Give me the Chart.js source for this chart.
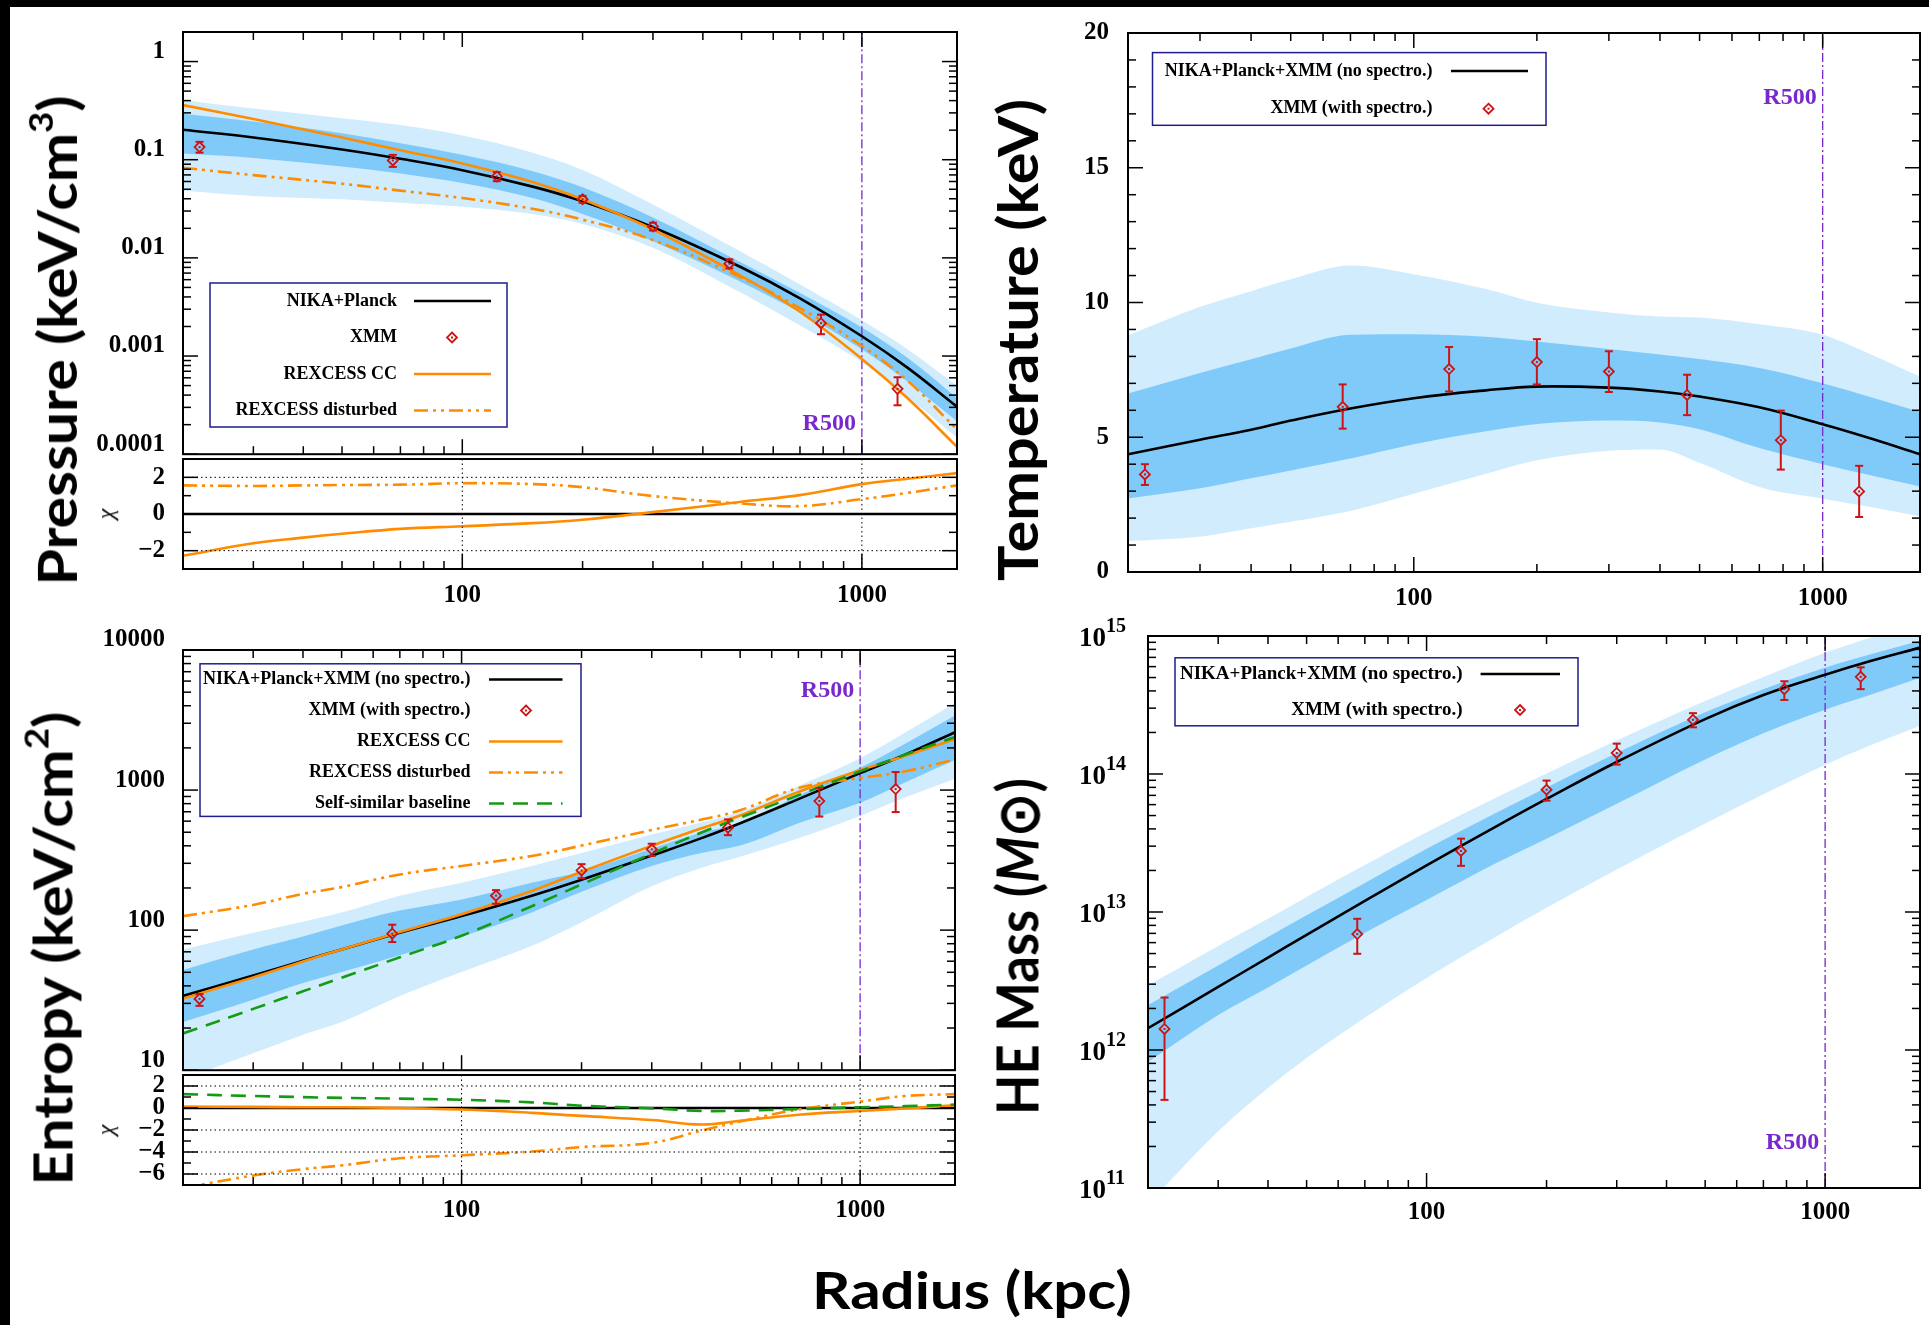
<!DOCTYPE html>
<html>
<head>
<meta charset="utf-8">
<title>Cluster profiles</title>
<script src="https://cdn.jsdelivr.net/npm/chart.js@4.4.1/dist/chart.umd.min.js"></script>
<style>
  body { margin: 0; width: 1929px; height: 1325px; background: #fff; position: relative; overflow: hidden; }
  canvas { position: absolute; }
  .bar { position: absolute; background: #000; }
  .title { position: absolute; font-family: Lato, sans-serif; font-weight: 700; white-space: nowrap; line-height: 1; color: #000; transform-origin: 50% 50%; }
  .title sup { font-size: 0.62em; line-height: 0; vertical-align: 0.72em; }
  .chi { position: absolute; font-family: 'Liberation Serif', serif; font-style: italic; font-size: 24px; line-height: 1; }
</style>
</head>
<body>
<div class="bar" style="left:0;top:0;width:1929px;height:7px"></div>
<div class="bar" style="left:0;top:0;width:10px;height:1325px"></div>
<canvas id="pressure"></canvas>
<canvas id="pressureChi"></canvas>
<canvas id="temperature"></canvas>
<canvas id="entropy"></canvas>
<canvas id="entropyChi"></canvas>
<canvas id="mass"></canvas>
<div class="title" id="tP" style="font-size:53px">Pressure (keV/cm<sup>3</sup>)</div>
<div class="title" id="tT" style="font-size:56px">Temperature (keV)</div>
<div class="title" id="tK" style="font-size:53px">Entropy (keV/cm<sup>2</sup>)</div>
<div class="title" id="tM" style="font-size:57px">HE Mass (<i>M</i>⊙)</div>
<div class="title" id="tR" style="font-size:51px">Radius (kpc)</div>
<div class="chi" id="chiP">χ</div>
<div class="chi" id="chiK">χ</div>
<script>
// ---- data (radius in kpc) ----
const rMin = 20, rMax = 1730, r500 = 1000;
const xTickValues = [100, 1000];
const xTickLabels = ['100', '1000'];

const rXmm = [22, 67, 122, 200, 300, 466, 790, 1228];

// pressure (keV/cm3)
const rPressure = [20, 30, 50, 70, 100, 150, 200, 300, 500, 700, 1000, 1300, 1730];
const pNika = [0.2018, 0.1683, 0.1271, 0.1021, 0.0782, 0.0532, 0.0377, 0.0205, 0.00798, 0.00387, 0.00159, 7.62e-4, 3.05e-4];
const pCC = [0.3597, 0.260, 0.168, 0.125, 0.0916, 0.0593, 0.0395, 0.01945, 0.00649, 0.002825, 9.35e-4, 3.73e-4, 1.19e-4];
const pDist = [0.0828, 0.0697, 0.0569, 0.0484, 0.0407, 0.0316, 0.0245, 0.0152, 0.00625, 0.00308, 0.001265, 5.61e-4, 1.79e-4];
const pOuterHi = [0.406, 0.3315, 0.2652, 0.2256, 0.1769, 0.1179, 0.0787, 0.0350, 0.01148, 0.00537, 0.00232, 0.001175, 4.99e-4];
const pInnerHi = [0.2936, 0.2446, 0.1861, 0.1474, 0.1121, 0.0763, 0.0524, 0.0258, 0.00891, 0.00438, 0.00195, 9.59e-4, 3.74e-4];
const pInnerLo = [0.1156, 0.1044, 0.0853, 0.0725, 0.0580, 0.0407, 0.0280, 0.01478, 0.00565, 0.00278, 0.001175, 5.50e-4, 2.16e-4];
const pOuterLo = [0.0484, 0.0428, 0.0395, 0.0364, 0.0332, 0.0280, 0.0222, 0.0127, 0.00438, 0.00205, 8.67e-4, 3.85e-4, 1.47e-4];
const pXmm = [0.1345, 0.0983, 0.0676, 0.0395, 0.0209, 0.00873, 0.00216, 4.63e-4];
const pXmmHi = [0.152, 0.112, 0.0748, 0.0428, 0.0228, 0.00966, 0.00264, 6.08e-4];
const pXmmLo = [0.118, 0.0845, 0.0604, 0.0364, 0.0190, 0.00781, 0.00167, 3.15e-4];
const pTickValues = [1e-4, 1e-3, 0.01, 0.1, 1];
const pTickLabels = ['0.0001', '0.001', '0.01', '0.1', '1'];

// pressure residuals
const rPressureChi = [20, 30, 40, 50, 70, 100, 150, 200, 300, 500, 700, 1000, 1300, 1730];
const chiPCC = [-2.28, -1.60, -1.29, -1.08, -0.81, -0.67, -0.50, -0.31, 0.10, 0.67, 1.03, 1.63, 1.92, 2.23];
const chiPDist = [1.56, 1.53, 1.56, 1.58, 1.60, 1.68, 1.63, 1.46, 0.98, 0.57, 0.43, 0.81, 1.15, 1.56];
const rChiZero = [20, 1730];
const chiZero = [0, 0];
const chiPTickValues = [-2, 0, 2];
const chiPTickLabels = ['\u22122', '0', '2'];

// temperature (keV)
const rTemperature = [20, 30, 40, 50, 70, 100, 150, 200, 300, 400, 500, 700, 1000, 1300, 1730];
const tNika = [4.37, 4.91, 5.28, 5.62, 6.07, 6.45, 6.74, 6.88, 6.84, 6.70, 6.51, 6.11, 5.48, 4.97, 4.37];
const tOuterHi = [8.78, 9.84, 10.42, 10.86, 11.37, 11.05, 10.5, 9.99, 9.63, 9.48, 9.44, 9.19, 8.8, 8.1, 7.25];
const tInnerHi = [6.62, 7.38, 7.89, 8.29, 8.80, 8.82, 8.73, 8.55, 8.27, 8.07, 7.90, 7.57, 7.0, 6.5, 5.94];
const tInnerLo = [2.73, 3.11, 3.48, 3.77, 4.21, 4.74, 5.22, 5.49, 5.62, 5.55, 5.3, 4.6, 4.0, 3.6, 3.17];
const tOuterLo = [1.15, 1.31, 1.62, 1.86, 2.26, 2.9, 3.65, 4.15, 4.5, 4.55, 4.05, 3.15, 2.72, 2.42, 2.07];
const tXmm = [3.62, 6.13, 7.53, 7.79, 7.44, 6.57, 4.89, 2.99];
const tXmmHi = [4.00, 6.96, 8.35, 8.64, 8.19, 7.32, 5.99, 3.94];
const tXmmLo = [3.23, 5.32, 6.70, 6.96, 6.68, 5.82, 3.80, 2.04];
const tTickValues = [0, 5, 10, 15, 20];
const tTickLabels = ['0', '5', '10', '15', '20'];

// entropy (keV cm2)
const rEntropy = [20, 30, 40, 50, 70, 100, 150, 200, 300, 400, 500, 700, 1000, 1300, 1730];
const kNika = [33.9, 47.4, 60.5, 72.8, 95.8, 126.0, 176.3, 229.3, 340.7, 453.7, 579.6, 861.5, 1321, 1794, 2588];
const kCC = [32.5, 46.0, 59.8, 72.8, 96.9, 129.8, 190.5, 261.2, 399.9, 533.3, 659.2, 970, 1387, 1758, 2307];
const kDist = [125.9, 151.4, 181.6, 202.8, 249.6, 287.3, 338.7, 401.4, 519.2, 615.7, 717.3, 1034, 1220, 1361, 1656];
const kBaseline = [18.3, 27.4, 36.6, 45.7, 64.0, 91.2, 148, 212, 352, 498, 636, 920, 1361, 1795, 2390];
const kOuterHi = [72.8, 95.8, 114.9, 133.9, 176.3, 218.1, 287.3, 355.6, 482.1, 586.3, 696.5, 1067, 1687, 2583, 4209];
const kInnerHi = [52.0, 72.8, 90.0, 108.1, 138.0, 165.8, 218.1, 262.0, 382.5, 497.6, 579.6, 915.2, 1446, 2152, 3403];
const kInnerLo = [22.1, 31.9, 41.9, 50.3, 66.3, 90.0, 133.9, 187.6, 287.3, 355.6, 401.4, 579.6, 810.8, 1135, 1636];
const kOuterLo = [8.6, 13.2, 17.9, 22.1, 33.9, 50.3, 77.2, 114, 206, 279, 334, 453.7, 654.2, 887.8, 1205];
const kXmm = [32.3, 94.4, 176.3, 266.6, 377.9, 538.6, 835.3, 1016];
const kXmmHi = [35.0, 109.3, 193.1, 295.8, 413.8, 617.1, 1034, 1345];
const kXmmLo = [28.8, 82.2, 154.2, 234.9, 338.7, 476.4, 647.1, 696.5];
const kTickValues = [10, 100, 1000, 10000];
const kTickLabels = ['10', '100', '1000', '10000'];

// entropy residuals
const chiKCC = [0.14, 0.10, 0.07, 0.07, 0, -0.14, -0.44, -0.72, -1.09, -1.50, -1.16, -0.61, -0.27, -0.03, 0.24];
const chiKDist = [-7.27, -6.14, -5.56, -5.22, -4.57, -4.30, -3.96, -3.55, -3.17, -2.05, -1.23, -0.14, 0.58, 1.09, 1.26];
const chiKBaseline = [1.26, 1.09, 0.99, 0.92, 0.85, 0.75, 0.51, 0.21, -0.03, -0.27, -0.24, -0.10, 0.07, 0.17, 0.31];
const chiKTickValues = [-6, -4, -2, 0, 2];
const chiKTickLabels = ['\u22126', '\u22124', '\u22122', '0', '2'];

// hydrostatic mass (Msun)
const rMass = [20, 30, 40, 50, 70, 100, 150, 200, 300, 500, 700, 1000, 1300, 1730];
const mNika = [1.439e12, 2.864e12, 4.677e12, 6.839e12, 1.202e13, 2.173e13, 4.188e13, 6.592e13, 1.222e14, 2.50e14, 3.741e14, 5.248e14, 6.592e14, 8.241e14];
const mOuterHi = [2.94e12, 5.68e12, 8.93e12, 1.286e13, 2.19e13, 3.79e13, 6.79e13, 1.01e14, 1.75e14, 3.38e14, 5.05e14, 7.55e14, 9.75e14, 1.26e15];
const mInnerHi = [2.12e12, 4.09e12, 6.58e12, 9.46e12, 1.625e13, 2.87e13, 5.26e13, 7.98e13, 1.419e14, 2.80e14, 4.12e14, 5.89e14, 7.36e14, 9.25e14];
const mInnerLo = [8.2e11, 1.79e12, 2.84e12, 4.09e12, 7.06e12, 1.22e13, 2.27e13, 3.40e13, 6.08e13, 1.276e14, 1.977e14, 2.924e14, 3.75e14, 4.99e14];
const mOuterLo = [7.66e10, 2.58e11, 5.30e11, 8.75e11, 1.714e12, 3.32e12, 6.67e12, 1.072e13, 2.03e13, 4.375e13, 7.13e13, 1.167e14, 1.618e14, 2.23e14];
const mXmm = [1.42e12, 6.92e12, 2.77e13, 7.69e13, 1.42e14, 2.47e14, 4.12e14, 5.06e14];
const mXmmHi = [2.40e12, 8.93e12, 3.40e13, 8.96e13, 1.66e14, 2.76e14, 4.70e14, 5.93e14];
const mXmmLo = [4.35e11, 4.98e12, 2.16e13, 6.41e13, 1.17e14, 2.18e14, 3.44e14, 4.12e14];
const mTickExponents = [11, 12, 13, 14, 15];

// ---- styles ----
const INK = '#000';
const LIGHT = 'rgb(209,236,253)';
const DARK = 'rgb(128,202,250)';
const ORANGE = 'rgb(255,140,0)';
const GREEN = 'rgb(20,155,20)';
const RED = 'rgb(205,20,20)';
const PURPLE = 'rgb(120,40,205)';
const NAVY = 'rgb(30,30,140)';
const DASHDOT = [14, 5, 3, 5, 3, 5];
const DASHED = [15, 9];
const fontTick = { family: 'Liberation Serif', weight: 'bold', size: 25 };

function pts(xs, ys) { return xs.map((x, i) => ({ x: x, y: ys[i] })); }

function band(xs, hi, lo, color, order) {
  return [
    { data: pts(xs, hi), fill: '+1', backgroundColor: color, borderWidth: 0, pointRadius: 0, order: order, cubicInterpolationMode: 'monotone' },
    { data: pts(xs, lo), fill: false, borderWidth: 0, pointRadius: 0, order: order, cubicInterpolationMode: 'monotone' }
  ];
}

function curve(label, xs, ys, color, dash, order) {
  return {
    label: label, data: pts(xs, ys), borderColor: color, borderWidth: 2.6, borderDash: dash || [],
    pointRadius: 0, fill: false, order: order, tension: 0.4
  };
}

function xmm(label, ys, lo, hi) {
  return {
    label: label, data: pts(rXmm, ys), showLine: false, pointStyle: 'rectRot', pointRadius: 5,
    pointBorderColor: RED, pointBackgroundColor: 'rgba(0,0,0,0)', pointBorderWidth: 1.8,
    borderColor: RED, errLo: lo, errHi: hi, order: 0
  };
}

function vline(yLo, yHi) {
  return { data: pts([r500, r500], [yLo, yHi]), borderColor: PURPLE, borderWidth: 1.3, borderDash: [9, 3, 2, 3], pointRadius: 0, fill: false, order: 5 };
}

function seg(ctx, x0, y0, x1, y1) { ctx.beginPath(); ctx.moveTo(x0, y0); ctx.lineTo(x1, y1); ctx.stroke(); }

function logTicks(min, max) {
  const out = [];
  for (let e = Math.floor(Math.log10(min)); e <= Math.ceil(Math.log10(max)); e++) {
    for (let m = 1; m < 10; m++) {
      const v = m * Math.pow(10, e);
      if (v >= min * 0.999 && v <= max * 1.001) out.push({ v: v, major: m === 1 });
    }
  }
  return out;
}

function linTicks(min, max, step, major) {
  const out = [];
  for (let v = Math.ceil(min / step) * step; v <= max + 1e-9; v += step) {
    out.push({ v: v, major: Math.abs(v / major - Math.round(v / major)) < 1e-6 });
  }
  return out;
}

// error bars around the XMM points, using the chart's y scale
const errorBars = {
  id: 'errorBars',
  afterDatasetsDraw(chart) {
    const ctx = chart.ctx, ys = chart.scales.y;
    chart.data.datasets.forEach((ds, i) => {
      if (!ds.errLo) return;
      const meta = chart.getDatasetMeta(i);
      ctx.save();
      ctx.strokeStyle = RED;
      ctx.lineWidth = 2;
      meta.data.forEach((pt, j) => {
        const top = ys.getPixelForValue(ds.errHi[j]);
        const bot = ys.getPixelForValue(ds.errLo[j]);
        const r = ds.pointRadius;
        if (top < pt.y - r) seg(ctx, pt.x, top, pt.x, pt.y - r);
        if (bot > pt.y + r) seg(ctx, pt.x, pt.y + r, pt.x, bot);
        seg(ctx, pt.x - 4, top, pt.x + 4, top);
        seg(ctx, pt.x - 4, bot, pt.x + 4, bot);
        ctx.fillStyle = RED;
        ctx.fillRect(pt.x - 1, pt.y - 1, 2, 2);
      });
      ctx.restore();
    });
  }
};

// gnuplot style frame: inward ticks, dotted grid, key box, R500 tag
const frame = {
  id: 'frame',
  afterDatasetsDraw(chart, args, o) {
    const ctx = chart.ctx, a = chart.chartArea;
    const xs = chart.scales.x, ys = chart.scales.y;
    ctx.save();
    ctx.strokeStyle = INK;
    ctx.lineWidth = 1;
    ctx.setLineDash([1.5, 3]);
    (o.gridX || []).forEach(v => { const p = xs.getPixelForValue(v); seg(ctx, p, a.top, p, a.bottom); });
    (o.gridY || []).forEach(v => { const p = ys.getPixelForValue(v); seg(ctx, a.left, p, a.right, p); });
    ctx.setLineDash([]);
    ctx.lineWidth = 1.5;
    logTicks(xs.min, xs.max).forEach(t => {
      const p = xs.getPixelForValue(t.v), len = t.major ? 15 : 8;
      seg(ctx, p, a.bottom, p, a.bottom - len);
      if (o.topTicks) seg(ctx, p, a.top, p, a.top + len);
    });
    const yt = o.yStep ? linTicks(ys.min, ys.max, o.yStep, o.yMajor) : logTicks(ys.min, ys.max);
    yt.forEach(t => {
      const p = ys.getPixelForValue(t.v), len = t.major ? 15 : 8;
      seg(ctx, a.left, p, a.left + len, p);
      seg(ctx, a.right, p, a.right - len, p);
    });
    ctx.lineWidth = 2;
    ctx.strokeRect(a.left, a.top, a.width, a.height);

    if (o.r500At !== undefined) {
      ctx.fillStyle = PURPLE;
      ctx.font = 'bold 24px "Liberation Serif"';
      ctx.textAlign = 'right';
      ctx.textBaseline = 'middle';
      ctx.fillText('R500', xs.getPixelForValue(r500) - 6, ys.getPixelForValue(o.r500At));
    }

    if (o.powers) {
      ctx.fillStyle = INK;
      ctx.textBaseline = 'middle';
      o.powers.forEach(e => {
        const p = ys.getPixelForValue(Math.pow(10, e));
        ctx.font = 'bold 27px "Liberation Serif"';
        ctx.textAlign = 'right';
        ctx.fillText('10', a.left - 42, p + 3);
        ctx.font = 'bold 20px "Liberation Serif"';
        ctx.textAlign = 'left';
        ctx.fillText(String(e), a.left - 42, p - 9);
      });
    }

    if (o.key) {
      const k = o.key, bx = a.left + k.x, by = a.top + k.y;
      ctx.fillStyle = '#fff';
      ctx.fillRect(bx, by, k.w, k.h);
      ctx.strokeStyle = NAVY;
      ctx.lineWidth = 1.5;
      ctx.strokeRect(bx, by, k.w, k.h);
      ctx.font = 'bold ' + (k.size || 18) + 'px "Liberation Serif"';
      ctx.textAlign = 'right';
      ctx.textBaseline = 'middle';
      let row = 0;
      chart.data.datasets.forEach(ds => {
        if (!ds.label) return;
        const cy = by + k.first + row * k.step;
        ctx.fillStyle = INK;
        ctx.fillText(ds.label, bx + k.text, cy);
        if (ds.errLo) {
          const mx = bx + k.mark, r = ds.pointRadius;
          ctx.strokeStyle = RED;
          ctx.lineWidth = 1.8;
          ctx.beginPath();
          ctx.moveTo(mx, cy - r); ctx.lineTo(mx + r, cy); ctx.lineTo(mx, cy + r); ctx.lineTo(mx - r, cy);
          ctx.closePath();
          ctx.stroke();
          ctx.fillStyle = RED;
          ctx.fillRect(mx - 1, cy - 1, 2, 2);
        } else {
          ctx.strokeStyle = ds.borderColor;
          ctx.lineWidth = ds.borderWidth;
          ctx.setLineDash(ds.borderDash || []);
          seg(ctx, bx + k.s0, cy, bx + k.s1, cy);
          ctx.setLineDash([]);
        }
        row++;
      });
    }
    ctx.restore();
  }
};

Chart.register(errorBars, frame);

function xAxis(showLabels, pad) {
  return {
    type: 'logarithmic', min: rMin, max: rMax, bounds: 'data',
    grid: { display: false, drawTicks: false }, border: { display: false },
    afterBuildTicks: s => { s.ticks = xTickValues.map(v => ({ value: v })); },
    ticks: {
      display: showLabels, autoSkip: false, maxRotation: 0, minRotation: 0, padding: pad,
      font: fontTick, color: INK, callback: (v, i) => xTickLabels[i]
    }
  };
}

function yAxis(type, min, max, values, labels, offset, pad) {
  return {
    type: type, min: min, max: max, bounds: 'data',
    grid: { display: false, drawTicks: false }, border: { display: false },
    afterBuildTicks: s => { s.ticks = values.map(v => ({ value: v })); },
    ticks: {
      display: !!labels, autoSkip: false, padding: pad, labelOffset: offset,
      font: fontTick, color: INK, callback: (v, i) => labels ? labels[i] : ''
    }
  };
}

function mount(id, area, m, datasets, scales, frameOpts) {
  const c = document.getElementById(id);
  c.width = area.w + m.l + m.r;
  c.height = area.h + m.t + m.b;
  c.style.left = (area.x - m.l) + 'px';
  c.style.top = (area.y - m.t) + 'px';
  c.style.width = c.width + 'px';
  c.style.height = c.height + 'px';
  scales.x.afterFit = s => { s.height = m.b; s.paddingLeft = 0; s.paddingRight = 0; };
  scales.y.afterFit = s => { s.width = m.l; s.paddingTop = 0; s.paddingBottom = 0; };
  return new Chart(c, {
    type: 'line',
    data: { datasets: datasets },
    options: {
      responsive: false, animation: false, devicePixelRatio: 1, events: [],
      layout: { padding: { top: m.t, right: m.r, left: 0, bottom: 0 } },
      plugins: { legend: { display: false }, tooltip: { enabled: false }, frame: frameOpts },
      scales: scales
    }
  });
}

// ---- pressure ----
mount('pressure', { x: 183, y: 32, w: 774, h: 427 }, { l: 183, r: 10, t: 30, b: 2 }, [
  ...band(rPressure, pOuterHi, pOuterLo, LIGHT, 10),
  ...band(rPressure, pInnerHi, pInnerLo, DARK, 9),
  vline(1e-4, 2),
  curve('NIKA+Planck', rPressure, pNika, INK, null, 4),
  xmm('XMM', pXmm, pXmmLo, pXmmHi),
  curve('REXCESS CC', rPressure, pCC, ORANGE, null, 2),
  curve('REXCESS disturbed', rPressure, pDist, ORANGE, DASHDOT, 3)
], {
  x: xAxis(false, 0),
  y: yAxis('logarithmic', 1e-4, 2, pTickValues, pTickLabels, -10, 18)
}, {
  topTicks: true, r500At: 2.06e-4,
  key: { x: 27, y: 251, w: 297, h: 144, first: 18, step: 36.5, text: 187, s0: 204, s1: 281, mark: 242 }
});

mount('pressureChi', { x: 183, y: 459, w: 774, h: 110 }, { l: 183, r: 10, t: 2, b: 60 }, [
  curve(null, rChiZero, chiZero, INK, null, 4),
  curve(null, rPressureChi, chiPCC, ORANGE, null, 2),
  curve(null, rPressureChi, chiPDist, ORANGE, DASHDOT, 3)
], {
  x: xAxis(true, 12),
  y: yAxis('linear', -3, 3, chiPTickValues, chiPTickLabels, 0, 18)
}, { gridX: xTickValues, gridY: [2, -2], yStep: 1, yMajor: 2 });

// ---- temperature ----
mount('temperature', { x: 1128, y: 33, w: 792, h: 539 }, { l: 150, r: 9, t: 30, b: 60 }, [
  ...band(rTemperature, tOuterHi, tOuterLo, LIGHT, 10),
  ...band(rTemperature, tInnerHi, tInnerLo, DARK, 9),
  vline(0, 20),
  curve('NIKA+Planck+XMM (no spectro.)', rTemperature, tNika, INK, null, 3),
  xmm('XMM (with spectro.)', tXmm, tXmmLo, tXmmHi)
], {
  x: xAxis(true, 12),
  y: yAxis('linear', 0, 20, tTickValues, tTickLabels, 0, 19)
}, {
  topTicks: true, yStep: 1, yMajor: 5, r500At: 17.58,
  key: { x: 24.5, y: 19.6, w: 393.5, h: 72.7, first: 18.4, step: 37.7, text: 280, s0: 298.5, s1: 375.5, mark: 336 }
});

// ---- entropy ----
mount('entropy', { x: 183, y: 650, w: 772, h: 425 }, { l: 183, r: 12, t: 30, b: 2 }, [
  ...band(rEntropy, kOuterHi, kOuterLo, LIGHT, 10),
  ...band(rEntropy, kInnerHi, kInnerLo, DARK, 9),
  vline(10, 10000),
  curve('NIKA+Planck+XMM (no spectro.)', rEntropy, kNika, INK, null, 4),
  xmm('XMM (with spectro.)', kXmm, kXmmLo, kXmmHi),
  curve('REXCESS CC', rEntropy, kCC, ORANGE, null, 2),
  curve('REXCESS disturbed', rEntropy, kDist, ORANGE, DASHDOT, 3),
  curve('Self-similar baseline', rEntropy, kBaseline, GREEN, DASHED, 1)
], {
  x: xAxis(false, 0),
  y: yAxis('logarithmic', 10, 10000, kTickValues, kTickLabels, -10, 18)
}, {
  topTicks: true, r500At: 5140,
  key: { x: 17, y: 13.8, w: 381, h: 152.6, first: 15.7, step: 31, text: 270.6, s0: 289, s1: 362.5, mark: 326 }
});

mount('entropyChi', { x: 183, y: 1075, w: 772, h: 110 }, { l: 183, r: 12, t: 2, b: 60 }, [
  curve(null, rChiZero, chiZero, INK, null, 4),
  curve(null, rEntropy, chiKCC, ORANGE, null, 2),
  curve(null, rEntropy, chiKDist, ORANGE, DASHDOT, 3),
  curve(null, rEntropy, chiKBaseline, GREEN, DASHED, 1)
], {
  x: xAxis(true, 11),
  y: yAxis('linear', -7, 3, chiKTickValues, chiKTickLabels, 0, 18)
}, { gridX: xTickValues, gridY: [2, -2, -4, -6], yStep: 1, yMajor: 2 });

// ---- mass ----
mount('mass', { x: 1148, y: 636, w: 772, h: 552 }, { l: 160, r: 9, t: 30, b: 60 }, [
  ...band(rMass, mOuterHi, mOuterLo, LIGHT, 10),
  ...band(rMass, mInnerHi, mInnerLo, DARK, 9),
  vline(1e11, 1e15),
  curve('NIKA+Planck+XMM (no spectro.)', rMass, mNika, INK, null, 3),
  xmm('XMM (with spectro.)', mXmm, mXmmLo, mXmmHi)
], {
  x: xAxis(true, 10),
  y: yAxis('logarithmic', 1e11, 1e15, mTickExponents.map(e => Math.pow(10, e)), null, 0, 10)
}, {
  topTicks: true, r500At: 2.13e11, powers: mTickExponents,
  key: { x: 27, y: 21.8, w: 403, h: 68, first: 16.2, step: 36, text: 287.5, s0: 305.6, s1: 385, mark: 345, size: 19 }
});

// ---- axis titles ----
function place(id, cx, cy, length, rotate) {
  const el = document.getElementById(id);
  const w = el.offsetWidth, h = el.offsetHeight;
  el.style.left = (cx - w / 2) + 'px';
  el.style.top = (cy - h / 2) + 'px';
  const k = length ? length / w : 1;
  el.style.transform = (rotate ? 'rotate(-90deg) ' : '') + 'scaleX(' + k + ')';
}
place('tP', 56, 340, 490, true);
place('tT', 1017, 340, 482, true);
place('tK', 52, 948, 474, true);
place('tM', 1017, 946, 337, true);
place('tR', 972, 1289, 320, false);
place('chiP', 105, 514, 0, true);
place('chiK', 105, 1130, 0, true);
</script>
</body>
</html>
